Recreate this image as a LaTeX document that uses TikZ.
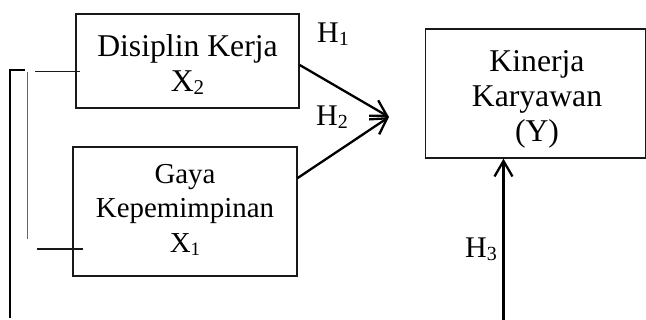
\documentclass[tikz,border=0pt]{standalone}
\usepackage{fontspec}
\setmainfont{Liberation Serif}
\usetikzlibrary{arrows.meta}
\newcommand\subdig[2]{\raisebox{-2.5pt}{\fontsize{#1}{#1}\selectfont #2}}
\begin{document}
\begin{tikzpicture}[x=1pt,y=-1pt,
  box/.style={draw=black!90,line width=1.4pt,inner sep=0pt},
  txt/.style={font=\fontsize{31.7}{35}\selectfont,anchor=base,inner sep=0pt},
  txts/.style={font=\fontsize{28.9}{34.5}\selectfont,anchor=base,inner sep=0pt},
  hlab/.style={font=\fontsize{30}{34}\selectfont,anchor=base,inner sep=0pt},
  arr/.style={line width=2.3pt,-{Straight Barb[length=15.5pt,width=18pt,line width=2.3pt]}},
  heavy/.style={line width=2.3pt},
  tick/.style={line width=1.7pt,black!90},
  thin/.style={line width=1.4pt,black!60}]
\useasboundingbox (0,0) rectangle (646,320);
% boxes
\node[box,minimum width=223pt,minimum height=94pt] (x2) at (187.5,61) {};
\node[txt] (x2a) at (187.5,57) {Disiplin Kerja};
\node[txt] (x2b) at (187.5,92) {X\subdig{21}{2}};
\node[box,minimum width=224pt,minimum height=129pt] (x1) at (185,211.5) {};
\node[txts] (x1a) at (185,184) {Gaya};
\node[txts] (x1b) at (185,218) {Kepemimpinan};
\node[txts] (x1c) at (185,253) {X\subdig{19}{1}};
\node[box,minimum width=220pt,minimum height=129pt] (y) at (535.5,93.5) {};
\node[txt] (ya) at (537,72) {Kinerja};
\node[txt] (yb) at (537,107) {Karyawan};
\node[txt] (yc) at (537,142) {(Y)};
% hypothesis labels
\node[hlab] (h1) at (333,43) {H\subdig{20}{1}};
\node[hlab] (h2) at (332,126) {H\subdig{20}{2}};
\node[hlab] (h3) at (481,258) {H\subdig{20}{3}};
% arrows
\coordinate (tip) at (389,117);
\draw[arr] ([yshift=-4pt]x2.east) -- (tip);
\draw[arr] ([yshift=33.5pt]x1.east) -- (tip);
\coordinate (h3s) at (503.5,320);
\draw[arr] (h3s) -- (h3s |- y.south);
% left lines
\coordinate (b1) at (25,70);
\coordinate (b2) at (10,70);
\coordinate (b3) at (10,318);
\draw[heavy] (b1) -- (b2) -- (b3);
\coordinate (v1) at (27.5,72);
\coordinate (v2) at (27.5,239);
\draw[thin] (v1) -- (v2);
\coordinate (l1) at (35,71.5);
\draw[tick] (l1) -- ([xshift=5pt,yshift=-10.5pt]x2.west);
\coordinate (l2) at (37,249);
\draw[tick] (l2) -- ([xshift=11pt,yshift=-37.5pt]x1.west);
\end{tikzpicture}
\end{document}
